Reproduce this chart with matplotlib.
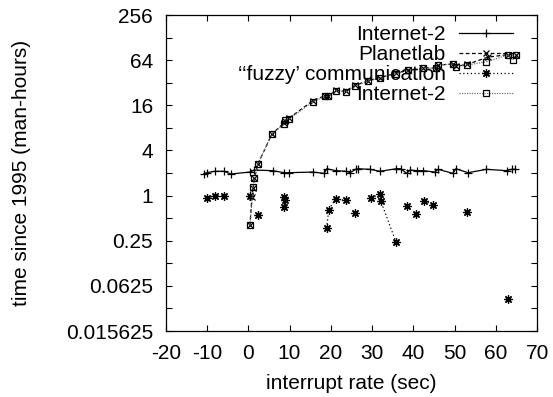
import numpy as np
import matplotlib
matplotlib.use("Agg")
import matplotlib.pyplot as plt
from matplotlib.ticker import FixedLocator, NullFormatter

plt.rcParams['font.family'] = ['Liberation Sans', 'DejaVu Sans']

# Internet-2 (solid, + markers)
inet_x = [-10.7, -10.1, -8.1, -5.8, -4.3, 0.4, 1.5, 5.9, 8.7, 9.9, 15.6, 18.4, 19.0,
          21.2, 23.8, 24.7, 26.0, 26.6, 29.5, 31.9, 35.9, 36.9, 38.4, 39.2, 40.8,
          42.4, 45.2, 46.0, 49.6, 50.3, 53.3, 57.7, 62.6, 63.8, 64.6]
inet_y = [1.94, 2.02, 2.11, 2.11, 1.94, 2.06, 2.19, 2.15, 2.02, 2.02, 2.06, 1.98, 2.28,
          2.15, 2.11, 2.02, 2.24, 2.28, 2.24, 2.11, 2.28, 2.28, 1.98, 2.19, 2.15,
          2.15, 2.06, 2.24, 1.98, 2.28, 2.02, 2.24, 2.15, 2.24, 2.24]

# Planetlab (dashed, x markers)
plab_x = [0.4, 0.9, 1.2, 1.5, 2.3, 5.7, 8.6, 8.8, 9.9, 15.7, 18.6, 19.4, 21.2, 23.7,
          25.8, 29.1, 31.9, 35.9, 38.7, 42.4, 45.4, 46.0, 49.6, 50.3, 53.0, 58.0,
          63.0, 64.8]
plab_y = [0.40, 0.97, 1.28, 1.70, 2.6, 6.6, 9.2, 10.0, 10.8, 18.5, 21.5, 21.0, 25.5,
          24.5, 29.5, 34.0, 37.5, 43.0, 47.0, 50.5, 50.0, 55.0, 57.0, 53.0, 56.0,
          70.0, 76.0, 74.0]

# "fuzzy" communication (dotted, asterisk markers)
fuzzy_x = [-10.1, -8.1, -5.8, 0.4, 2.3, 8.7, 8.9, 8.7, 19.0, 19.5, 21.2, 23.6, 25.9,
           29.8, 31.9, 32.1, 35.8, 38.4, 40.6, 42.6, 44.8, 53.1, 63.0]
fuzzy_y = [0.92, 0.99, 0.99, 1.0, 0.55, 0.97, 0.87, 0.70, 0.37, 0.65, 0.91, 0.86, 0.58,
           0.93, 1.05, 0.85, 0.24, 0.73, 0.56, 0.85, 0.76, 0.61, 0.042]
fuzzy_run = [0, 0, 0, 1, 2, 3, 3, 3, 4, 4, 4, 4, 5, 6, 6, 6, 6, 7, 8, 9, 9, 10, 11]

# Internet-2 second series (dotted gray, square markers)
inet2_x = [0.4, 1.2, 1.5, 2.3, 5.7, 8.6, 8.8, 9.9, 15.7, 18.6, 19.4, 21.2, 23.7, 25.8,
           29.1, 31.9, 35.9, 38.7, 42.4, 45.4, 46.0, 49.6, 50.3, 53.0, 57.7, 63.0,
           64.1, 64.8]
inet2_y = [0.40, 1.31, 1.73, 2.64, 6.6, 9.0, 10.2, 10.5, 17.9, 21.0, 21.0, 25.0, 24.3,
           28.9, 33.4, 37.2, 42.3, 46.6, 49.8, 49.8, 55.0, 56.8, 52.4, 55.0, 61.0,
           75.0, 64.0, 75.0]

xticks = [-20, -10, 0, 10, 20, 30, 40, 50, 60, 70]
yticks = [2.0 ** k for k in range(-6, 9, 2)]
ytick_labels = ['0.015625', '0.0625', '0.25', '1', '4', '16', '64', '256']

fig = plt.figure(figsize=(5.53, 3.97), dpi=100)
ax = fig.add_axes([0.2997, 0.1662, 0.6716, 0.796])

lw = 0.9
ax.plot(inet_x, inet_y, color='black', linestyle='-', linewidth=lw,
        marker='+', markersize=6, markeredgewidth=0.9, label='Internet-2')
ax.plot(plab_x, plab_y, color='black', linestyle=(0, (3, 2)), linewidth=lw,
        marker='x', markersize=5, markeredgewidth=0.9, label='Planetlab')

# fuzzy: markers for all, dotted lines within runs
fx = np.array(fuzzy_x)
fy = np.array(fuzzy_y)
fr = np.array(fuzzy_run)
first = True
for r in np.unique(fr):
    m = fr == r
    ax.plot(fx[m], fy[m], color='black', linestyle=(0, (1, 2)), linewidth=lw,
            marker=(8, 2, 0), markersize=6, markeredgewidth=0.9,
            label="‘‘fuzzy’ communication" if first else None)
    first = False

ax.plot(inet2_x, inet2_y, color='#777777', linestyle=(0, (1, 1)), linewidth=lw,
        marker='s', markersize=5, markerfacecolor='none', markeredgecolor='black',
        markeredgewidth=0.9, label='Internet-2')

ax.set_yscale('log', base=2)
ax.set_xlim(-20, 70)
ax.set_ylim(2.0 ** -6, 2.0 ** 8)
ax.xaxis.set_major_locator(FixedLocator(xticks))
ax.set_xticklabels([str(t) for t in xticks])
ax.yaxis.set_major_locator(FixedLocator(yticks))
ax.set_yticklabels(ytick_labels)
ax.yaxis.set_minor_locator(FixedLocator([2.0 ** k for k in range(-5, 8, 2)]))
ax.yaxis.set_minor_formatter(NullFormatter())

fs = 15
ax.tick_params(which='both', direction='in', top=True, right=True, labelsize=fs,
               width=0.8)
ax.tick_params(which='major', length=4)
ax.tick_params(which='minor', length=4)
ax.tick_params(axis='x', pad=9)
ax.tick_params(axis='y', pad=9)
for s in ax.spines.values():
    s.set_linewidth(0.9)

ax.set_xlabel('interrupt rate (sec)', fontsize=fs)
ax.set_ylabel('time since 1995 (man-hours)', fontsize=fs)
ax.xaxis.set_label_coords(0.5, -0.135)
ax.yaxis.set_label_coords(-0.364, 0.5)

leg = ax.legend(loc='upper right', bbox_to_anchor=(0.935, 0.968), frameon=False,
                markerfirst=False, fontsize=fs, handlelength=2.6,
                handletextpad=0.62, labelspacing=0.05, borderpad=0, borderaxespad=0)

fig.savefig('out.png', dpi=100)
